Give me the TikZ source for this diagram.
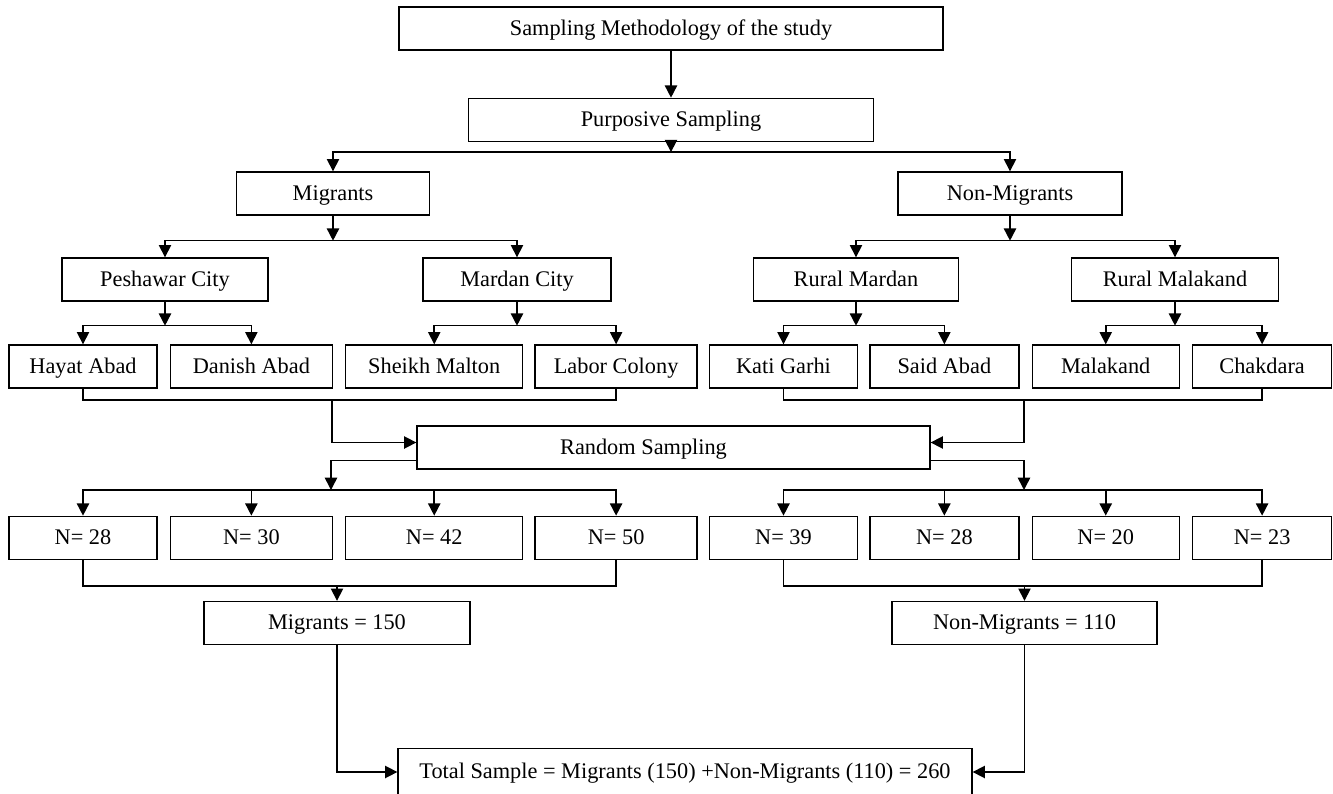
\documentclass[tikz,border=0pt]{standalone}
\usepackage{fontspec}
\setmainfont{Liberation Serif}
\usetikzlibrary{arrows.meta,positioning,calc}

\begin{document}
\begin{tikzpicture}[
    x=0.02cm, y=-0.02cm,
    box/.style={draw, line width=0.8pt, minimum height=0.86cm, inner sep=2pt, text height=0.92em, text depth=0.15em, font=\fontsize{12.7}{15}\selectfont},
    arrow/.style={line width=0.9pt, -{Triangle[length=7pt,width=7pt]}},
    line/.style={line width=0.8pt}
]
\useasboundingbox (0,0) rectangle (1333,794);

% Top of the tree
\node[box, minimum width=10.88cm] (methodology) at (671,28.5) {Sampling Methodology of the study};
\node[box, minimum width=8.1cm, below=0.94cm of methodology] (purposive) {Purposive Sampling};

% Migrants / Non-Migrants
\node[box, minimum width=3.86cm] (migrants) at (333,193.5) {Migrants};
\node[box, minimum width=4.48cm] (non_migrants) at (1010,193.5) {Non-Migrants};

% Cities and rural areas
\node[box, minimum width=4.12cm] (peshawar) at (165,279.5) {Peshawar City};
\node[box, minimum width=3.76cm] (mardan) at (517,279.5) {Mardan City};
\node[box, minimum width=4.1cm] (rural_mardan) at (856,279.5) {Rural Mardan};
\node[box, minimum width=4.14cm] (rural_malakand) at (1175,279.5) {Rural Malakand};

% Localities
\node[box, minimum width=2.96cm] (hayat_abad) at (83,366.5) {Hayat Abad};
\node[box, minimum width=3.24cm, right=0.24cm of hayat_abad] (danish_abad) {Danish Abad};
\node[box, minimum width=3.54cm, right=0.24cm of danish_abad] (sheikh_malton) {Sheikh Malton};
\node[box, minimum width=3.24cm, right=0.22cm of sheikh_malton] (labor_colony) {Labor Colony};
\node[box, minimum width=2.96cm, right=0.22cm of labor_colony] (kati_garhi) {Kati Garhi};
\node[box, minimum width=2.98cm, right=0.22cm of kati_garhi] (said_abad) {Said Abad};
\node[box, minimum width=2.94cm, right=0.24cm of said_abad] (malakand) {Malakand};
\node[box, minimum width=2.78cm, right=0.24cm of malakand] (chakdara) {Chakdara};

% Random sampling
\node[box, minimum width=10.26cm] (random) at (673.5,447.5) {Random Sampling\hspace*{1.2cm}};

% Sample sizes
\node[box, minimum width=2.96cm, below=2.54cm of hayat_abad] (n_hayat_abad) {N= 28};
\node[box, minimum width=3.24cm, below=2.54cm of danish_abad] (n_danish_abad) {N= 30};
\node[box, minimum width=3.54cm, below=2.54cm of sheikh_malton] (n_sheikh_malton) {N= 42};
\node[box, minimum width=3.24cm, below=2.54cm of labor_colony] (n_labor_colony) {N= 50};
\node[box, minimum width=2.96cm, below=2.54cm of kati_garhi] (n_kati_garhi) {N= 39};
\node[box, minimum width=2.98cm, below=2.54cm of said_abad] (n_said_abad) {N= 28};
\node[box, minimum width=2.94cm, below=2.54cm of malakand] (n_malakand) {N= 20};
\node[box, minimum width=2.78cm, below=2.54cm of chakdara] (n_chakdara) {N= 23};

% Totals
\node[box, minimum width=5.32cm] (migrants_total) at (337,623) {Migrants = 150};
\node[box, minimum width=5.3cm] (non_migrants_total) at (1024.5,623) {Non-Migrants = 110};
\node[box, minimum width=11.48cm, minimum height=0.94cm] (total) at (685,772) {Total Sample = Migrants (150) +Non-Migrants (110) = 260};

% Split and join points
\coordinate (split_top) at ($(purposive.south)+(0,10)$);
\coordinate (split_migrants) at ($(migrants.south)+(0,25)$);
\coordinate (split_non_migrants) at ($(non_migrants.south)+(0,25)$);
\coordinate (split_peshawar) at ($(peshawar.south)+(0,24)$);
\coordinate (split_mardan) at ($(mardan.south)+(0,24)$);
\coordinate (split_rural_mardan) at ($(rural_mardan.south)+(0,24)$);
\coordinate (split_rural_malakand) at ($(rural_malakand.south)+(0,24)$);
\coordinate (join_left) at (332,400);
\coordinate (join_right) at (1024,400);
\coordinate (in_left) at ($(random.west)+(0,-5)$);
\coordinate (in_right) at ($(random.east)+(0,-5)$);
\coordinate (out_left) at ($(random.west)+(0,13)$);
\coordinate (out_right) at ($(random.east)+(0,13)$);
\coordinate (split_n_left) at (331,490);
\coordinate (split_n_right) at (1024,490);
\coordinate (join_n_left) at ($(migrants_total.north)+(0,-15)$);
\coordinate (join_n_right) at ($(non_migrants_total.north)+(0,-15)$);

% Purposive part
\draw[arrow] (methodology) -- (purposive);
\draw[arrow] (purposive) -- (split_top);
\draw[arrow] (split_top) -| (migrants);
\draw[arrow] (split_top) -| (non_migrants);
\draw[arrow] (migrants) -- (split_migrants);
\draw[arrow] (split_migrants) -| (peshawar);
\draw[arrow] (split_migrants) -| (mardan);
\draw[arrow] (non_migrants) -- (split_non_migrants);
\draw[arrow] (split_non_migrants) -| (rural_mardan);
\draw[arrow] (split_non_migrants) -| (rural_malakand);
\draw[arrow] (peshawar) -- (split_peshawar);
\draw[arrow] (split_peshawar) -| (hayat_abad);
\draw[arrow] (split_peshawar) -| (danish_abad);
\draw[arrow] (mardan) -- (split_mardan);
\draw[arrow] (split_mardan) -| (sheikh_malton);
\draw[arrow] (split_mardan) -| (labor_colony);
\draw[arrow] (rural_mardan) -- (split_rural_mardan);
\draw[arrow] (split_rural_mardan) -| (kati_garhi);
\draw[arrow] (split_rural_mardan) -| (said_abad);
\draw[arrow] (rural_malakand) -- (split_rural_malakand);
\draw[arrow] (split_rural_malakand) -| (malakand);
\draw[arrow] (split_rural_malakand) -| (chakdara);

% Random part
\draw[line] (hayat_abad) |- (join_left) -| (labor_colony);
\draw[line] (kati_garhi) |- (join_right) -| (chakdara);
\draw[arrow] (join_left) |- (in_left);
\draw[arrow] (join_right) |- (in_right);
\draw[arrow] (out_left) -| (split_n_left);
\draw[arrow] (out_right) -| (split_n_right);
\draw[arrow] (split_n_left) -| (n_hayat_abad);
\draw[arrow] (split_n_left) -| (n_danish_abad);
\draw[arrow] (split_n_left) -| (n_sheikh_malton);
\draw[arrow] (split_n_left) -| (n_labor_colony);
\draw[arrow] (split_n_right) -| (n_kati_garhi);
\draw[arrow] (split_n_right) -| (n_said_abad);
\draw[arrow] (split_n_right) -| (n_malakand);
\draw[arrow] (split_n_right) -| (n_chakdara);

% Totals part
\draw[line] (n_hayat_abad) |- (join_n_left) -| (n_labor_colony);
\draw[line] (n_kati_garhi) |- (join_n_right) -| (n_chakdara);
\draw[arrow] (join_n_left) -- (migrants_total);
\draw[arrow] (join_n_right) -- (non_migrants_total);
\draw[arrow] (migrants_total) |- (total);
\draw[arrow] (non_migrants_total) |- (total);

\end{tikzpicture}
\end{document}
